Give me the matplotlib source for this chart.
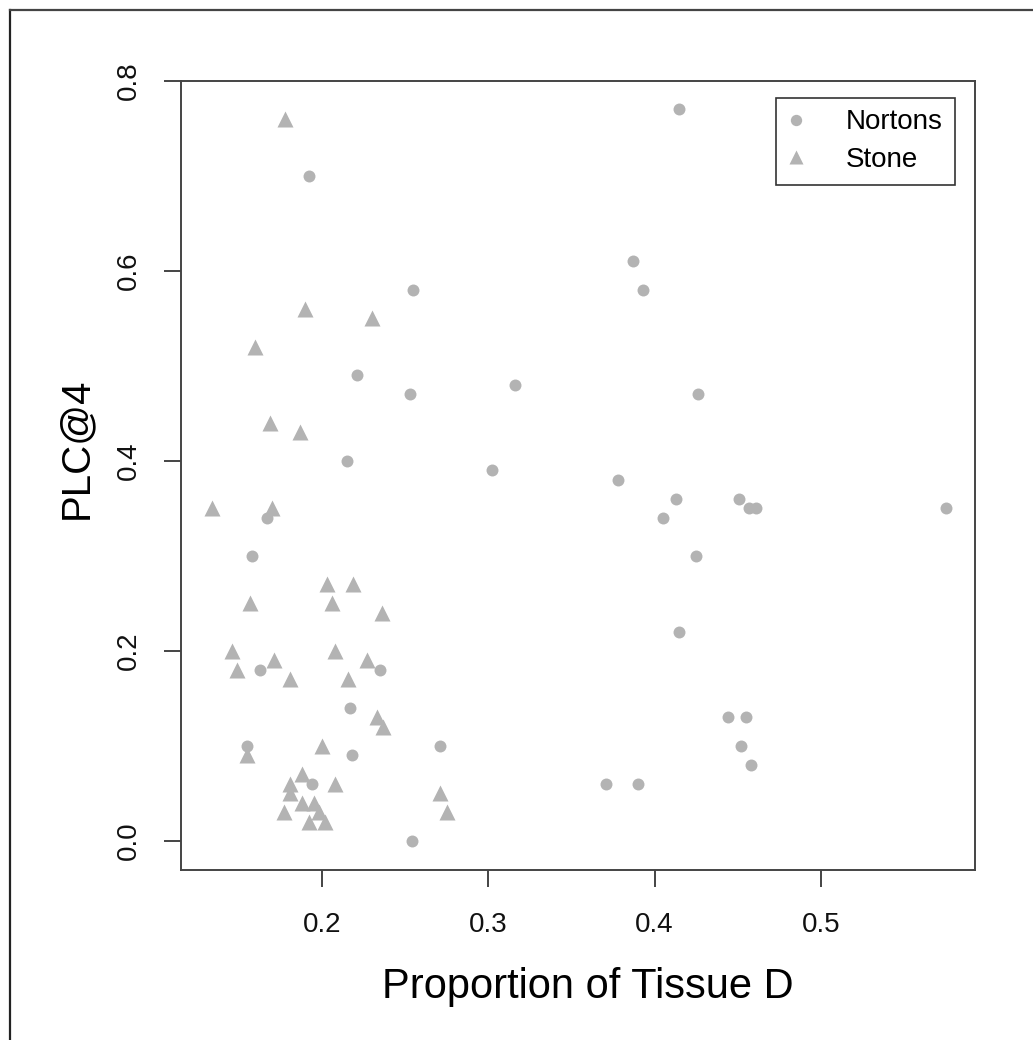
import matplotlib
matplotlib.use("Agg")
import matplotlib.pyplot as plt
from matplotlib.lines import Line2D

plt.rcParams['font.family'] = ['Liberation Sans', 'DejaVu Sans']

# Nortons (circles)
nortons_x = [0.215, 0.167, 0.158, 0.163, 0.235, 0.217, 0.155, 0.218, 0.194, 0.254,
             0.192, 0.255, 0.221, 0.253, 0.415, 0.387, 0.393, 0.316, 0.426, 0.302,
             0.378, 0.413, 0.451, 0.457, 0.461, 0.575, 0.405, 0.425, 0.415, 0.444,
             0.455, 0.271, 0.452, 0.458, 0.371, 0.390]
nortons_y = [0.40, 0.34, 0.30, 0.18, 0.18, 0.14, 0.10, 0.09, 0.06, 0.00,
             0.70, 0.58, 0.49, 0.47, 0.77, 0.61, 0.58, 0.48, 0.47, 0.39,
             0.38, 0.36, 0.36, 0.35, 0.35, 0.35, 0.34, 0.30, 0.22, 0.13,
             0.13, 0.10, 0.10, 0.08, 0.06, 0.06]

# Stone (triangles)
stone_x = [0.134, 0.170, 0.203, 0.219, 0.157, 0.206, 0.236, 0.146, 0.208, 0.149,
           0.171, 0.227, 0.181, 0.216, 0.233, 0.237, 0.155, 0.200, 0.188, 0.181,
           0.181, 0.208, 0.188, 0.195, 0.198, 0.177, 0.192, 0.202, 0.271, 0.275,
           0.178, 0.190, 0.230, 0.160, 0.169, 0.187]
stone_y = [0.35, 0.35, 0.27, 0.27, 0.25, 0.25, 0.24, 0.20, 0.20, 0.18,
           0.19, 0.19, 0.17, 0.17, 0.13, 0.12, 0.09, 0.10, 0.07, 0.06,
           0.05, 0.06, 0.04, 0.04, 0.03, 0.03, 0.02, 0.02, 0.05, 0.03,
           0.76, 0.56, 0.55, 0.52, 0.44, 0.43]

x_ticks = [0.2, 0.3, 0.4, 0.5]
y_ticks = [0.0, 0.2, 0.4, 0.6, 0.8]
x_label = "Proportion of Tissue D"
y_label = "PLC@4"
series_labels = ["Nortons", "Stone"]

W, H = 1033, 1040
fig = plt.figure(figsize=(W / 100, H / 100), dpi=100)
fig.patch.set_facecolor('white')

left, right, top, bottom = 181, 975, 80.7, 870
ax = fig.add_axes([left / W, 1 - bottom / H, (right - left) / W, (bottom - top) / H])

gray = '#b3b3b3'
ax.plot(nortons_x, nortons_y, linestyle='none', marker='o', ms=8.6,
        mfc=gray, mec='none', label=series_labels[0])
ax.plot(stone_x, stone_y, linestyle='none', marker='^', ms=11,
        mfc=gray, mec='none', label=series_labels[1])

ax.set_xlim(0.1153, 0.5927)
ax.set_ylim(-0.0307, 0.8)
ax.set_xticks(x_ticks)
ax.set_xticklabels([f"{v:.1f}" for v in x_ticks])
ax.set_yticks(y_ticks)
ax.set_yticklabels([f"{v:.1f}" for v in y_ticks])

axcol = '#444444'
for s in ax.spines.values():
    s.set_color(axcol)
    s.set_linewidth(1.4)
ax.tick_params(axis='both', direction='out', length=12.5, width=1.4, color=axcol,
               labelsize=20, labelcolor='#111111')
ax.tick_params(axis='x', pad=18)
ax.tick_params(axis='y', pad=16, labelrotation=90)
for lab in ax.get_yticklabels():
    lab.set_va('center')
    lab.set_ha('right')

fig.text(588 / W, 1 - 987 / H, x_label, ha='center', va='center', fontsize=30, color='#000000')
fig.text(76 / W, 1 - 448 / H, y_label, ha='center', va='center', fontsize=29,
         rotation=90, color='#000000')

leg = ax.legend(loc='upper right',
                bbox_to_anchor=(1 - 20.4 / (right - left), 1 - 17 / (bottom - top)),
                borderaxespad=0, frameon=True, fancybox=False, edgecolor='#000000',
                fontsize=20, handlelength=0.6, handletextpad=1.5, labelspacing=0.42,
                borderpad=0.42, markerscale=0.95)
leg.get_frame().set_linewidth(1.2)

# outer frame (top and left)
fig.add_artist(Line2D([10 / W, 10 / W], [0, 1 - 10 / H], transform=fig.transFigure,
                      color='#222222', lw=1.6))
fig.add_artist(Line2D([10 / W, 1], [1 - 10 / H, 1 - 10 / H], transform=fig.transFigure,
                      color='#444444', lw=1.6))

fig.savefig('out.png', dpi=100, facecolor='white')
